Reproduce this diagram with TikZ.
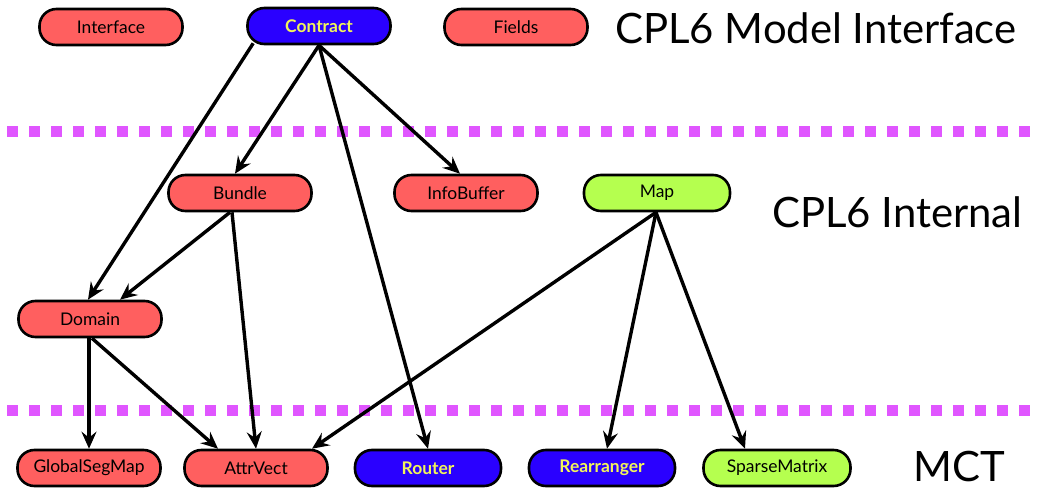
\documentclass[tikz,border=0pt]{standalone}
\usepackage{fontspec}
\setmainfont{Lato}
\usetikzlibrary{arrows.meta,calc}
\definecolor{cred}{HTML}{FF5F5F}
\definecolor{cblue}{HTML}{2A00FF}
\definecolor{cgreen}{HTML}{B5FF4F}
\definecolor{cyel}{HTML}{F2F55A}
\definecolor{cdot}{HTML}{E056FF}
\tikzset{
  box/.style={draw=black, line width=2.6bp, rounded corners=17bp, minimum width=143bp, minimum height=36bp, inner sep=0pt, font=\fontsize{17.5}{20}\selectfont},
  redbox/.style={box, fill=cred, text=black},
  bluebox/.style={box, fill=cblue, text=cyel, font=\fontsize{17.5}{20}\selectfont\bfseries},
  greenbox/.style={box, fill=cgreen, text=black},
  title/.style={font=\fontsize{42}{47}\selectfont, anchor=west, inner sep=0pt},
  conn/.style={draw, line width=3.4bp, -{Stealth[length=17bp,width=15bp,inset=6bp]}},
  sep/.style={draw=cdot, line width=11bp, dash pattern=on 11bp off 11bp}
}
\begin{document}
\begin{tikzpicture}[x=1bp,y=-1bp]
\useasboundingbox (0,0) rectangle (1037,491);
\fill[white] (0,0) rectangle (1037,491);
% separators
\coordinate (s1a) at (7,132); \coordinate (s1b) at (1035,132);
\coordinate (s2a) at (7,410); \coordinate (s2b) at (1035,410);
\path[sep] (s1a) -- (s1b);
\path[sep] (s2a) -- (s2b);
% nodes
\node[redbox] (interface) at (111,27) {Interface};
\node[bluebox] (contract) at (319,26) {Contract};
\node[redbox] (fields) at (516,27) {Fields};
\node[redbox] (bundle) at (240,193) {Bundle};
\node[redbox] (infobuffer) at (466,193) {InfoBuffer};
\node[greenbox, minimum width=146bp] (map) at (657,193) {Map};
\node[redbox] (domain) at (90,319) {Domain};
\node[redbox] (gsm) at (89,468) {GlobalSegMap};
\node[redbox] (attrvect) at (256,468) {AttrVect};
\node[bluebox, minimum width=146bp] (router) at (428,468) {Router};
\node[bluebox, minimum width=146bp] (rearranger) at (602,468) {Rearranger};
\node[greenbox, minimum width=147bp] (sparse) at (777,468) {SparseMatrix};
% titles
\node[title] (t1) at (615,28) {CPL6 Model Interface};
\node[title] (t2) at (772,212) {CPL6 Internal};
\node[title] (t3) at (913,467) {MCT};
% connectors
\draw[conn] ($(contract.south west)+(7,-2)$) -- ($(domain.north)+(-2,0)$);
\draw[conn] (contract.south) -- ($(bundle.north)+(-5,0)$);
\draw[conn] (contract.south) -- (router.north);
\draw[conn] (contract.south) -- ($(infobuffer.north)+(-6,0)$);
\draw[conn] ($(bundle.south)+(-10,0)$) -- ($(domain.north)+(30,0)$);
\draw[conn] ($(bundle.south)+(-8,0)$) -- (attrvect.north);
\draw[conn] ($(domain.south)+(-1,0)$) -- (gsm.north);
\draw[conn] ($(domain.south)+(2,0)$) -- ($(attrvect.north)+(-38,0)$);
\draw[conn] ($(map.south)+(-1,0)$) -- ($(attrvect.north)+(56,0)$);
\draw[conn] ($(map.south)+(-1,0)$) -- ($(rearranger.north)+(5,0)$);
\draw[conn] ($(map.south)+(-1,0)$) -- ($(sparse.north)+(-32,0)$);
\end{tikzpicture}
\end{document}
